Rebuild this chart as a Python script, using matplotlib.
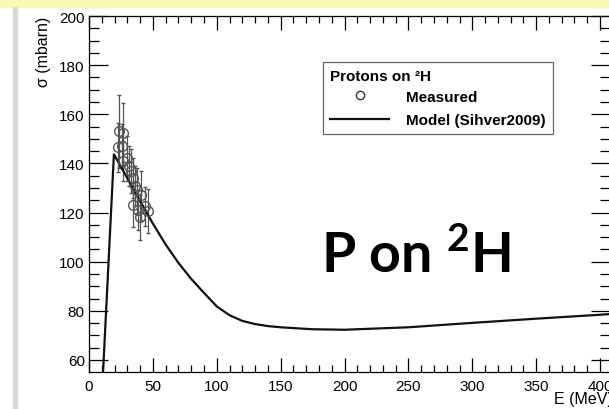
import matplotlib
matplotlib.use('Agg')
import matplotlib.pyplot as plt
from matplotlib.ticker import MultipleLocator
from matplotlib.lines import Line2D
from matplotlib.patches import Rectangle

# measured cross sections (E in MeV, sigma in mbarn, error)
measE = [23.5, 26.5, 23.0, 25.5, 27.0, 29.5, 31.0, 33.0, 34.5, 36.0, 37.5, 41.0, 34.5, 38.5, 40.0, 44.0, 46.5]
measSigma = [153, 152.5, 146.5, 147, 141, 142, 139, 137, 134, 131, 129, 127, 123, 121, 118, 122.5, 120.5]
measErr = [15, 12, 10, 9, 8, 9, 8, 9, 8, 8, 9, 10, 9, 8, 9, 8, 9]

# model curve (Sihver2009)
modelE = [11, 19.5, 25, 30, 40, 50, 60, 70, 80, 90, 100, 110, 120, 130, 140, 150, 175, 200, 250, 300, 350, 400, 408]
modelSigma = [55, 143.7, 138.6, 134, 124.7, 115.5, 107.0, 99.5, 93.0, 87.3, 81.8, 78.2, 75.9, 74.6, 73.8, 73.3, 72.5, 72.3, 73.3, 75.1, 76.8, 78.4, 78.7]

plt.rcParams['font.family'] = 'Liberation Sans'
plt.rcParams['mathtext.fontset'] = 'custom'
plt.rcParams['mathtext.bf'] = 'Lato:bold'

fig = plt.figure(figsize=(6.09, 4.10), dpi=100)
fig.patches.append(Rectangle((0, 402 / 410), 1, 8 / 410, transform=fig.transFigure,
                             color='#faf7b6', zorder=0))
fig.patches.append(Rectangle((13 / 609, 0), 4 / 609, 402 / 410, transform=fig.transFigure,
                             color='#d9d9d9', zorder=0))

ax = fig.add_axes([89 / 609, 37 / 410, 521 / 609, 356 / 410])
ax.errorbar(measE, measSigma, yerr=measErr, fmt='o', mfc='none', mec='#555555',
            ms=7, mew=1.0, ecolor='#555555', elinewidth=0.9, capsize=1.5, capthick=0.9)
ax.plot(modelE, modelSigma, color='#111111', lw=1.6)

ax.set_xlim(0, 407.8)
ax.set_ylim(55.1, 200)
ax.xaxis.set_major_locator(MultipleLocator(50))
ax.xaxis.set_minor_locator(MultipleLocator(10))
ax.yaxis.set_major_locator(MultipleLocator(20))
ax.yaxis.set_minor_locator(MultipleLocator(5))
ax.tick_params(which='both', direction='in', top=True, right=True, labelsize=11, width=0.9)
ax.tick_params(axis='x', which='major', length=10, pad=5)
ax.tick_params(axis='x', which='minor', length=5)
ax.tick_params(axis='y', which='major', length=14, pad=3)
ax.tick_params(axis='y', which='minor', length=7)
for s in ax.spines.values():
    s.set_linewidth(0.9)

ax.set_ylabel('σ (mbarn)', loc='top', fontsize=11.5, labelpad=6)
fig.text(554 / 609, 1 - 400 / 410, 'E (MeV)', fontsize=11.5, ha='left', va='center')

handles = [Line2D([], [], ls='none', marker='o', mfc='none', mec='#333333', ms=6),
           Line2D([], [], color='#111111', lw=1.6)]
leg = ax.legend(handles, ['Measured', 'Model (Sihver2009)'], title='Protons on ²H',
                loc='upper left', bbox_to_anchor=(0.449, 0.871), borderaxespad=0,
                fancybox=False, edgecolor='#666666', framealpha=1, alignment='left',
                handlelength=3.9, handletextpad=1.1, borderpad=0.45, labelspacing=0.6,
                prop={'weight': 'bold', 'size': 11},
                title_fontproperties={'weight': 'bold', 'size': 11})
leg.get_frame().set_linewidth(0.9)
leg._legend_box.sep = 5

ax.text(0.628, 0.332, r'P on $^{\mathbf{2}}$H', transform=ax.transAxes,
        fontsize=40, fontweight='bold', family='Lato', ha='center', va='center')

fig.savefig('out.png', dpi=100)
